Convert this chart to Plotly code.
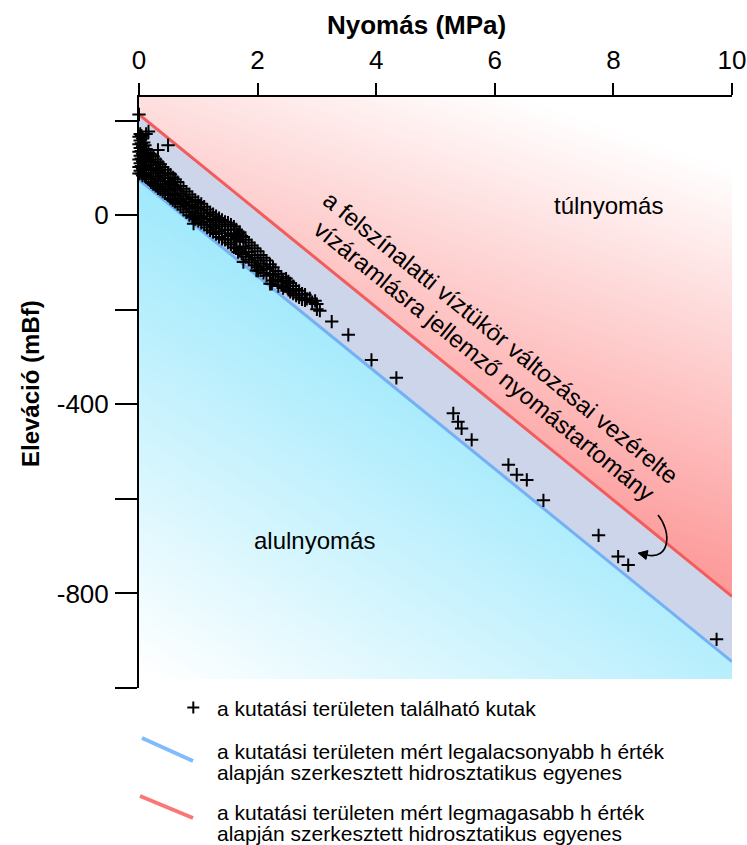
import numpy as np
import plotly.graph_objects as go

# Wells of the study area: pressure (MPa) and elevation of the measuring point (mBf)
well_pressure = [
    0.00, 0.00, 0.00, 0.00, 0.00, 0.00, 0.00,
    0.02, 0.02, 0.02, 0.02, 0.02, 0.02,
    0.04, 0.04, 0.04, 0.04, 0.04, 0.04,
    0.06, 0.06, 0.06, 0.06, 0.06, 0.06,
    0.08, 0.08, 0.08, 0.08, 0.08,
    0.10, 0.10, 0.10, 0.10, 0.10,
    0.12, 0.12, 0.12, 0.12, 0.12,
    0.16, 0.16, 0.16, 0.16, 0.16,
    0.20, 0.20, 0.20, 0.20, 0.20,
    0.24, 0.24, 0.24, 0.24,
    0.28, 0.28, 0.28, 0.28,
    0.32, 0.32, 0.32, 0.32, 0.32,
    0.36, 0.36, 0.36, 0.36,
    0.40, 0.40, 0.40, 0.40,
    0.44, 0.44, 0.44, 0.44,
    0.49, 0.49, 0.49, 0.49, 0.49,
    0.53, 0.53, 0.53, 0.53,
    0.57, 0.57, 0.57, 0.57,
    0.61, 0.61, 0.61, 0.61,
    0.65, 0.65, 0.65, 0.65,
    0.70, 0.70, 0.70, 0.70,
    0.75, 0.75, 0.75, 0.75,
    0.80, 0.80, 0.80, 0.80,
    0.85, 0.85, 0.85, 0.85,
    0.90, 0.90, 0.90, 0.90,
    0.92,
    0.95, 0.95, 0.95, 0.95,
    1.00, 1.00, 1.00, 1.00,
    1.05, 1.05, 1.05, 1.05,
    1.10, 1.10, 1.10, 1.10,
    1.15, 1.15, 1.15, 1.15,
    1.20, 1.20, 1.20, 1.20,
    1.25, 1.25, 1.25, 1.25,
    1.30, 1.30, 1.30, 1.30,
    1.35, 1.35, 1.35, 1.35,
    1.40, 1.40, 1.40, 1.40,
    1.45, 1.45, 1.45,
    1.50, 1.50, 1.50, 1.50,
    1.55, 1.55, 1.55,
    1.60, 1.60, 1.60, 1.60,
    1.64, 1.64, 1.64,
    1.67, 1.67,
    1.70, 1.70, 1.70,
    1.73, 1.73,
    1.76, 1.76, 1.76,
    1.80, 1.80, 1.80,
    1.85, 1.85, 1.85,
    1.90, 1.90, 1.90,
    1.95, 1.95, 1.95,
    1.98,
    2.00, 2.00, 2.00,
    2.01,
    2.05, 2.05, 2.05,
    2.10, 2.10, 2.10,
    2.15, 2.15, 2.15,
    2.21, 2.21, 2.21,
    2.24,
    2.26, 2.26, 2.26,
    2.30, 2.30,
    2.35, 2.35, 2.35,
    2.40, 2.40,
    2.43, 2.43,
    2.48, 2.48,
    2.52, 2.52,
    2.55, 2.55,
    2.60, 2.60,
    2.65, 2.65,
    2.70, 2.70,
    2.75, 2.75,
    2.80, 2.80,
    2.83, 2.88, 2.92, 2.97,
    3.00, 3.00, 3.05,
    3.25, 3.53, 3.92, 4.34,
    5.30, 5.38, 5.44, 5.61,
    6.23, 6.37, 6.54, 6.82,
    7.75, 8.08, 8.25, 9.74,
]
well_elevation = [
    213, 166, 150, 134, 118, 102, 88,
    172, 158, 142, 126, 110, 94,
    168, 152, 136, 120, 104, 88,
    162, 146, 130, 114, 98, 84,
    154, 138, 122, 106, 90,
    148, 132, 116, 100, 84,
    172, 140, 122, 104, 80,
    177, 132, 114, 96, 76,
    128, 112, 96, 82, 70,
    124, 106, 88, 66,
    118, 100, 82, 62,
    138, 112, 94, 76, 57,
    108, 90, 72, 54,
    102, 84, 66, 50,
    96, 78, 60, 46,
    148, 90, 72, 56, 42,
    86, 68, 52, 36,
    80, 64, 46, 32,
    76, 58, 42, 28,
    70, 52, 36, 24,
    62, 46, 30, 18,
    56, 40, 24, 12,
    50, 34, 20, 6,
    44, 28, 14, 0,
    38, 22, 8, -4,
    -18,
    32, 18, 4, -8,
    28, 14, 0, -12,
    24, 10, -4, -16,
    18, 4, -8, -20,
    12, -2, -14, -26,
    6, -8, -20, -32,
    2, -12, -24, -36,
    -2, -16, -28, -40,
    -6, -20, -34, -46,
    -10, -24, -38, -50,
    -14, -32, -52,
    -16, -30, -44, -58,
    -20, -40, -62,
    -24, -38, -52, -68,
    -30, -48, -70,
    -78, -40,
    -36, -56, -74,
    -44, -82,
    -99, -46, -66,
    -52, -70, -88,
    -58, -78, -94,
    -64, -84, -100,
    -70, -90, -106,
    -117,
    -76, -96, -110,
    -117,
    -84, -102, -116,
    -90, -108, -122,
    -96, -114, -128,
    -145, -104, -124,
    -145,
    -110, -126, -138,
    -118, -136,
    -124, -140, -150,
    -130, -148,
    -138, -154,
    -134, -150,
    -140, -158,
    -144, -162,
    -150, -166,
    -156, -170,
    -160, -174,
    -166, -178,
    -168, -180,
    -177, -176, -184, -181,
    -188, -199, -202,
    -225, -253, -306, -344,
    -419, -437, -451, -475,
    -528, -549, -560, -603,
    -677, -722, -740, -897,
]

# Lowest and highest hydraulic head measured in the area (mBf)
H_MIN = 75.0
H_MAX = 213.0
M_PER_MPA = 1.0e6 / (1000.0 * 9.81)   # metres of water column per MPa

x_tick_vals = [0, 2, 4, 6, 8, 10]
y_tick_vals = [200, 0, -200, -400, -600, -800, -1000]
y_tick_text = ["", "0", "", "-400", "", "-800", ""]

P_RANGE = [0, 10]
Z_RANGE = [-1000, 250]
Z_FILL_BOTTOM = -980

BAND = "#cdd5ea"
CYAN = "#9fe9fc"
SALMON = "#fd9898"
RED_LINE = "#f25c5c"
BLUE_LINE = "#74b1f4"
FONT = "Liberation Sans, Arial, sans-serif"

# figure size and plot-area margins (pixels)
W, H = 747, 845
ML, MR, MT, MB = 139, 15, 97, 157
PW = W - ML - MR
PH = H - MT - MB


def hydrostatic(h, p):
    """Elevation of a hydrostatic line with head h at pressure p."""
    return h - np.asarray(p, dtype=float) * M_PER_MPA


def paper(px, py):
    """Figure pixel position -> paper coordinates."""
    return (px - ML) / PW, (H - MB - py) / PH


# --- background shading: overpressure (red) and underpressure (cyan) zones
xe = np.linspace(P_RANGE[0], P_RANGE[1], 101)
ze = np.linspace(Z_FILL_BOTTOM, Z_RANGE[1], 124)
xc = (xe[:-1] + xe[1:]) / 2
zc = (ze[:-1] + ze[1:]) / 2
XX, ZZ = np.meshgrid(xc, zc)
u = (XX - P_RANGE[0]) / (P_RANGE[1] - P_RANGE[0])
v = (Z_RANGE[1] - ZZ) / (Z_RANGE[1] - Z_RANGE[0])
t_red = np.clip(0.474 * (1 - u) + 1.388 * v - 0.166, 0, 1)
t_cyan = np.clip(0.75 * u - 1.2 * v + 1.168, 0, 1)
mid_line = hydrostatic((H_MIN + H_MAX) / 2, XX)
shade = np.round(np.where(ZZ > mid_line, 2 + t_red, t_cyan), 4)

fig = go.Figure()

fig.add_trace(go.Heatmap(
    x=xe, y=ze, z=shade, zmin=0, zmax=3, zsmooth="best",
    colorscale=[[0, "#ffffff"], [1 / 3, CYAN], [2 / 3, "#ffffff"], [1, SALMON]],
    showscale=False, hoverinfo="skip",
))

# band between the two hydrostatic lines
p_ends = np.array(P_RANGE, dtype=float)
fig.add_trace(go.Scatter(
    x=[p_ends[0], p_ends[1], p_ends[1], p_ends[0]],
    y=[hydrostatic(H_MAX, p_ends[0]), hydrostatic(H_MAX, p_ends[1]),
       hydrostatic(H_MIN, p_ends[1]), hydrostatic(H_MIN, p_ends[0])],
    fill="toself", fillcolor=BAND, mode="lines", line=dict(width=0),
    hoverinfo="skip", showlegend=False,
))

fig.add_trace(go.Scatter(
    x=p_ends, y=hydrostatic(H_MIN, p_ends), mode="lines",
    line=dict(color=BLUE_LINE, width=3), showlegend=False,
))
fig.add_trace(go.Scatter(
    x=p_ends, y=hydrostatic(H_MAX, p_ends), mode="lines",
    line=dict(color=RED_LINE, width=3), showlegend=False,
))

fig.add_trace(go.Scatter(
    x=well_pressure, y=well_elevation, mode="markers",
    marker=dict(symbol="cross-thin", size=9.5, color="black",
                line=dict(color="black", width=2)),
    showlegend=False, cliponaxis=False,
))

annotations = []


def text_at(px, py, text, size, angle=0, anchor="center", bold=False):
    x, y = paper(px, py)
    annotations.append(dict(
        x=x, y=y, xref="paper", yref="paper", text=f"<b>{text}</b>" if bold else text,
        showarrow=False, xanchor=anchor, yanchor="middle", textangle=angle,
        font=dict(family=FONT, size=size, color="black"),
    ))


text_at(416, 25, "Nyomás (MPa)", 26, bold=True)
text_at(30, 384, "Eleváció (mBf)", 24, angle=-90, bold=True)
text_at(608, 206, "túlnyomás", 24)
text_at(314, 540, "alulnyomás", 24)
text_at(501, 337, "a felszínalatti víztükör változásai vezérelte", 24, angle=39)
text_at(484, 360, "vízáramlásra jellemző nyomástartomány", 24, angle=39)

text_at(215, 708, "a kutatási területen található kutak", 21, anchor="left")
text_at(215, 751, "a kutatási területen mért legalacsonyabb h érték", 21, anchor="left")
text_at(215, 772, "alapján szerkesztett hidrosztatikus egyenes", 21, anchor="left")
text_at(215, 812, "a kutatási területen mért legmagasabb h érték", 21, anchor="left")
text_at(215, 833, "alapján szerkesztett hidrosztatikus egyenes", 21, anchor="left")

shapes = []


def seg(p0, p1, color, width):
    x0, y0 = paper(*p0)
    x1, y1 = paper(*p1)
    shapes.append(dict(type="line", xref="paper", yref="paper",
                       x0=x0, y0=y0, x1=x1, y1=y1,
                       line=dict(color=color, width=width)))


# legend keys
seg((187.3, 707.5), (199.3, 707.5), "black", 2)
seg((193.3, 701.5), (193.3, 713.5), "black", 2)
seg((142, 738), (193, 761), "#80bcfb", 4)
seg((140, 796), (193, 818), "#fb7676", 4)


def path_of(points, cmd):
    out = []
    for c, pt in zip(cmd, points):
        x, y = paper(*pt)
        out.append(f"{c}{x:.5f},{y:.5f}")
    return " ".join(out)


# curved pointer from the label to the band
curve = path_of([(658, 515), (672, 532), (670, 560), (647, 555)], ["M", "C", " ", " "])
shapes.append(dict(type="path", xref="paper", yref="paper", path=curve,
                   line=dict(color="black", width=1.6)))
head = path_of([(638.2, 553.1), (648.0, 550.6), (646.0, 559.4)], ["M", "L", "L"]) + " Z"
shapes.append(dict(type="path", xref="paper", yref="paper", path=head,
                   fillcolor="black", line=dict(color="black", width=1)))

fig.update_layout(
    width=W, height=H, autosize=False,
    margin=dict(l=ML, r=MR, t=MT, b=MB, pad=0, autoexpand=False),
    paper_bgcolor="white", plot_bgcolor="white",
    font=dict(family=FONT, color="black"),
    showlegend=False,
    annotations=annotations,
    shapes=shapes,
    xaxis=dict(
        range=P_RANGE, side="top", tickvals=x_tick_vals,
        ticks="outside", ticklen=12, tickwidth=2, tickcolor="black",
        showline=True, linewidth=2, linecolor="black", automargin=False,
        showgrid=False, zeroline=False, tickfont=dict(size=26),
        ticklabelstandoff=4,
    ),
    yaxis=dict(
        range=Z_RANGE, tickvals=y_tick_vals, ticktext=y_tick_text,
        ticks="outside", ticklen=22, tickwidth=2, tickcolor="black",
        showline=True, linewidth=2, linecolor="black", automargin=False,
        showgrid=False, zeroline=False, tickfont=dict(size=26),
        ticklabelstandoff=1,
    ),
)

fig.write_html("out.html")
